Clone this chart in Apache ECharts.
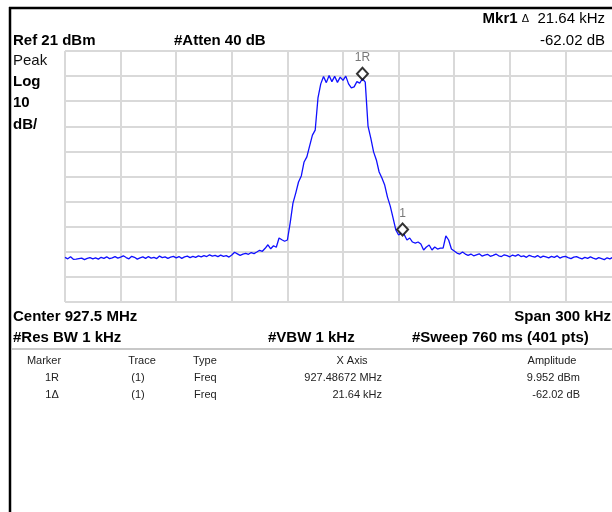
<!DOCTYPE html>
<html>
<head>
<meta charset="utf-8">
<script src="https://cdn.jsdelivr.net/npm/echarts@6/dist/echarts.min.js"></script>
<style>
  html, body { margin: 0; padding: 0; background: #fff; overflow: hidden; }
  /* the screenshot cuts the instrument screen off at the right, so the chart is wider than the window */
  #chart { width: 630px; height: 512px; }
</style>
</head>
<body>
<div id="chart"></div>
<script>
// trace: 201 readings, 1.5 kHz apart, offset from center 927.5 MHz
var traceStartKHz = -150;
var traceStepKHz = 1.5;
var traceDbm = [
  -61.2,-61.8,-61.0,-62.0,-61.9,-61.7,-61.5,-62.1,-61.6,-61.3,-61.8,-61.4,-61.9,-61.2,-61.6,-61.0,-61.7,-61.4,-60.9,-61.5,
  -61.1,-60.6,-61.3,-61.8,-60.8,-61.2,-61.9,-61.4,-61.0,-61.6,-60.9,-61.5,-61.2,-61.7,-60.7,-61.3,-61.0,-61.6,-61.1,-60.8,
  -61.4,-60.9,-61.6,-61.0,-60.7,-61.3,-60.8,-61.2,-60.6,-61.0,-60.5,-60.9,-60.2,-60.7,-60.4,-60.9,-60.3,-60.8,-60.5,-61.1,
  -60.3,-59.2,-59.8,-60.4,-59.9,-59.6,-60.0,-59.3,-59.7,-59.1,-58.4,-58.8,-57.6,-56.2,-57.8,-56.6,-57.2,-53.5,-54.2,-54.8,
  -54.3,-47.5,-39.6,-35.6,-31.2,-28.8,-23.2,-21.2,-16.8,-12.5,-10.5,2.3,7.9,10.8,8.4,11.2,8.8,10.9,8.5,10.6,
  9.3,11.0,7.9,6.3,6.7,8.8,8.2,9.95,8.6,-8.9,-13.7,-19.2,-22.4,-27.2,-29.6,-32.4,-37.2,-40.8,-45.5,-50.3,
  -52.3,-51.5,-52.1,-54.3,-53.5,-55.1,-55.5,-55.1,-55.9,-58.3,-57.1,-56.3,-58.3,-57.1,-57.9,-57.5,-57.5,-52.7,-54.3,-57.9,
  -58.7,-59.5,-59.9,-59.1,-59.9,
  -60.4,-59.9,-60.6,-60.2,-59.8,-60.7,-60.3,-60.0,-60.8,-60.4,-59.9,-60.6,-60.9,-60.2,-60.5,-61.0,-60.3,-60.7,-60.1,-60.9,
  -60.6,-61.2,-60.4,-60.8,-61.1,-60.5,-61.3,-60.7,-61.0,-61.4,-60.8,-61.2,-60.6,-61.5,-61.0,-60.8,-61.3,-61.7,-61.1,-60.9,
  -61.4,-61.8,-61.2,-61.6,-61.0,-61.5,-61.9,-61.3,-61.7,-62.1,-61.4,-61.8,-61.2,-61.9,-61.6,-62.0
];

var markerNames = ['1R', '1'];
var markerKHz = [10.5, 32.14];
var markerDbm = [9.952, -52.07];

var tableHeader = ['Marker', 'Trace', 'Type', 'X Axis', 'Amplitude'];
var tableRow1 = ['1R', '(1)', 'Freq', '927.48672 MHz', '9.952 dBm'];
var tableRow2 = ['1\u0394', '(1)', 'Freq', '21.64 kHz', '-62.02 dB'];

var FONT = 'Liberation Sans, Arial, sans-serif';

var traceData = traceDbm.map(function (v, i) {
    return [traceStartKHz + traceStepKHz * i, v];
});
var markerData = markerNames.map(function (n, i) {
    return { value: [markerKHz[i], markerDbm[i]], name: n };
});

function txt(x, y, s, font, align, color) {
    return {
        type: 'text', x: x, y: y, silent: true,
        style: {
            text: s, font: font, fill: color || '#000',
            align: align || 'left', textAlign: align || 'left',
            verticalAlign: 'middle', textVerticalAlign: 'middle'
        }
    };
}
function hline(x1, x2, y, color, w) {
    return { type: 'line', silent: true, shape: { x1: x1, y1: y, x2: x2, y2: y }, style: { stroke: color, lineWidth: w } };
}

var bold15 = 'bold 15px ' + FONT;
var norm15 = '15px ' + FONT;
var small = '11px ' + FONT;

var graphics = [
    // frame
    { type: 'line', silent: true, shape: { x1: 10, y1: 7, x2: 10, y2: 512 }, style: { stroke: '#000', lineWidth: 2.5 } },
    hline(9, 630, 8, '#000', 2.5),
    // header texts
    txt(13, 41, 'Ref 21 dBm', bold15),
    txt(174, 41, '#Atten 40 dB', bold15),
    {
        type: 'text', x: 605, y: 19, silent: true,
        style: {
            text: '{b|Mkr1} {d|\u0394}  21.64 kHz', font: norm15, fill: '#000',
            align: 'right', textAlign: 'right', verticalAlign: 'middle', textVerticalAlign: 'middle',
            rich: { b: { font: bold15 }, d: { font: '11px ' + FONT } }
        }
    },
    txt(605, 41, '-62.02 dB', norm15, 'right'),
    txt(13, 61, 'Peak', norm15, 'left', '#111'),
    txt(13, 82, 'Log', bold15),
    txt(13, 103, '10', bold15),
    txt(13, 125, 'dB/', bold15),
    // footer texts
    txt(13, 317, 'Center 927.5 MHz', bold15),
    txt(611, 317, 'Span 300 kHz', bold15, 'right'),
    txt(13, 338, '#Res BW 1 kHz', bold15),
    txt(268, 338, '#VBW 1 kHz', bold15),
    txt(412, 338, '#Sweep 760 ms (401 pts)', bold15),
    hline(12, 630, 349, '#c8c8c8', 2),
    // table
    txt(44, 361, tableHeader[0], small, 'center', '#222'),
    txt(142, 361, tableHeader[1], small, 'center', '#222'),
    txt(193, 361, tableHeader[2], small, 'left', '#222'),
    txt(352, 361, tableHeader[3], small, 'center', '#222'),
    txt(552, 361, tableHeader[4], small, 'center', '#222')
];
[tableRow1, tableRow2].forEach(function (row, r) {
    var y = 378 + r * 17;
    graphics.push(txt(52, y, row[0], small, 'center', '#222'));
    graphics.push(txt(138, y, row[1], small, 'center', '#222'));
    graphics.push(txt(194, y, row[2], small, 'left', '#222'));
    graphics.push(txt(382, y, row[3], small, 'right', '#222'));
    graphics.push(txt(580, y, row[4], small, 'right', '#222'));
});

var myChart = echarts.init(document.getElementById('chart'));
myChart.setOption({
    animation: false,
    backgroundColor: '#fff',
    grid: {
        left: 65, top: 51, width: 556, height: 251,
        show: false
    },
    xAxis: {
        type: 'value', min: -150, max: 150, interval: 30,
        axisLabel: { show: false }, axisLine: { show: false }, axisTick: { show: false },
        splitLine: { show: true, lineStyle: { color: '#d9d9d9', width: 2 } }
    },
    yAxis: [
        { type: 'value', min: -79, max: 21, show: false },
        {
            type: 'value', min: 0, max: 10, interval: 1,
            axisLabel: { show: false }, axisLine: { show: false }, axisTick: { show: false },
            splitLine: { show: true, lineStyle: { color: '#d9d9d9', width: 2 } }
        }
    ],
    series: [
        {
            name: 'trace',
            type: 'line',
            yAxisIndex: 0,
            data: traceData,
            showSymbol: false,
            lineStyle: { color: '#1010ff', width: 1.3 },
            z: 3
        },
        {
            name: 'markers',
            type: 'scatter',
            yAxisIndex: 0,
            data: markerData,
            symbol: 'diamond',
            symbolSize: [11, 12],
            symbolOffset: [0, -5],
            itemStyle: { color: '#fff', borderColor: '#000', borderWidth: 2 },
            label: {
                show: true, position: 'top', distance: 3,
                formatter: '{b}', color: '#555',
                font: 'bold 9px DejaVu Sans Mono, monospace'
            },
            z: 5
        }
    ],
    graphic: graphics
});
</script>
</body>
</html>
